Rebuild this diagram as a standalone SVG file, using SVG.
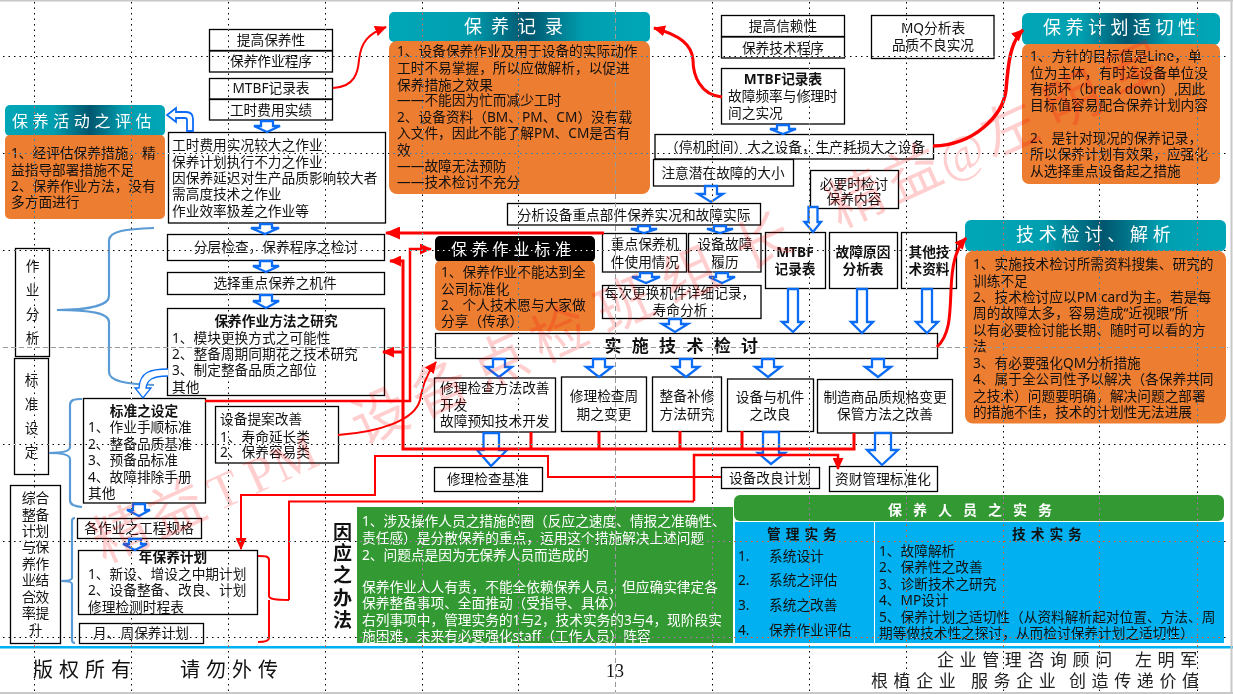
<svg xmlns="http://www.w3.org/2000/svg" width="1233" height="694" viewBox="0 0 1233 694">
<style>
text{font-family:"Noto Sans","Noto Sans CJK SC",sans-serif;font-size:13.7px;fill:#111;text-spacing-trim:space-all}
.m{text-anchor:middle}
.bd{font-weight:700}
.w{fill:#fff}
.box{fill:#fff;stroke:#000;stroke-width:1.3}
.or{fill:#ED7D31}
.hd{fill:url(#teal)}
.ti{fill:#fff;font-size:18px}
.ha{fill:#fff;stroke:#0A6CF5;stroke-width:2.3}
.br{fill:none;stroke:#5B9BD5;stroke-width:2.2}
.r2{fill:none;stroke:#F00;stroke-width:2}
.r3{fill:none;stroke:#F00;stroke-width:3}
.dot{stroke:#fff;stroke-width:1;stroke-dasharray:1.5 4;mix-blend-mode:difference}
.gr{stroke:#999;stroke-width:1;stroke-dasharray:5 3}
.wm{font-size:56px;fill:#F00;fill-opacity:.19}
.wl{font-family:"Liberation Serif",serif;font-size:50px}
.ft{font-size:17px;letter-spacing:5.6px;fill:#222}
</style>
<defs>
<linearGradient id="teal" x1="0" x2="1" y1="0" y2="0">
<stop offset="0" stop-color="#00A6B7"/><stop offset=".3" stop-color="#009FB0"/><stop offset=".53" stop-color="#00566E"/><stop offset=".75" stop-color="#009FB0"/><stop offset="1" stop-color="#00A6B7"/>
</linearGradient>
<marker id="rh" markerUnits="userSpaceOnUse" markerWidth="15" markerHeight="13" refX="14" refY="6.5" orient="auto"><path d="M0 0L15 6.5L0 13z" fill="#F00"/></marker>
<marker id="rs" markerUnits="userSpaceOnUse" markerWidth="12" markerHeight="11" refX="11" refY="5.5" orient="auto"><path d="M0 0L12 5.5L0 11z" fill="#F00"/></marker>
</defs>
<rect width="1233" height="694" fill="#fff"/>

<g id="n-tigao"><rect class="box" x="209.5" y="29.5" width="123" height="21"/><rect class="box" x="209.5" y="51" width="123" height="21"/><text class="m" x="271" y="45">提高保养性</text><text class="m" x="271" y="66">保养作业程序</text></g>
<g id="n-mtbf1"><rect class="box" x="209.5" y="78.5" width="123" height="20.5"/><rect class="box" x="209.5" y="99.5" width="123" height="20.5"/><text class="m" x="271" y="93">MTBF记录表</text><text class="m" x="271" y="115">工时费用实绩</text></g>

<g id="n-huodong"><rect class="hd" x="5" y="105" width="160" height="31" rx="5"/><rect class="or" x="5" y="135" width="160" height="84" rx="5"/>
<text class="ti" style="font-size:16px;letter-spacing:4.6px" x="12" y="127">保养活动之评估</text>
<text x="11" y="158">1、经评估保养措施，精</text><text x="11" y="175">益指导部署措施不足</text><text x="11" y="191">2、保养作业方法，没有</text><text x="11" y="207">多方面进行</text></g>

<g id="n-gongshi"><rect class="box" x="168.5" y="132.5" width="217" height="90.5"/>
<text x="172" y="150">工时费用实况较大之作业</text><text x="172" y="167">保养计划执行不力之作业</text><text x="172" y="183">因保养延迟对生产品质影响较大者</text><text x="172" y="199">需高度技术之作业</text><text x="172" y="216">作业效率极差之作业等</text></g>

<g id="n-fenceng"><rect class="box" x="167.5" y="234.5" width="217" height="26"/><text class="m" x="276" y="252">分层检查，保养程序之检讨</text></g>
<g id="n-xuanze"><rect class="box" x="167.5" y="272.5" width="217" height="22"/><text class="m" x="275" y="288">选择重点保养之机件</text></g>
<g id="n-yanjiu"><rect class="box" x="167.5" y="308.5" width="217" height="87"/>
<text class="m bd" x="276" y="326">保养作业方法之研究</text><text x="172" y="343">1、模块更换方式之可能性</text><text x="172" y="359">2、整备周期同期花之技术研究</text><text x="172" y="375">3、制定整备品质之部位</text><text x="172" y="392">其他</text></g>

<g id="n-zuoye"><rect class="box" x="15.5" y="248.5" width="34" height="108"/><text class="m" x="32.500" y="271">作</text><text class="m" x="32.500" y="295">业</text><text class="m" x="32.500" y="319">分</text><text class="m" x="32.500" y="343">析</text></g>
<g id="n-biaozhun-l"><rect class="box" x="14.5" y="358.500" width="34" height="116"/><text class="m" x="31.500" y="385">标</text><text class="m" x="31.500" y="409">准</text><text class="m" x="31.500" y="433">设</text><text class="m" x="31.500" y="457">定</text></g>
<g id="n-zonghe"><rect class="box" x="10.5" y="485.5" width="50" height="158"/>
<text class="m" x="35.500" y="503">综合</text><text class="m" x="35.500" y="520">整备</text><text class="m" x="35.500" y="536">计划</text><text class="m" x="35.500" y="552">与保</text><text class="m" x="35.500" y="569">养作</text><text class="m" x="35.500" y="585">业结</text><text class="m" x="35.500" y="602">合效</text><text class="m" x="35.500" y="618">率提</text><text class="m" x="35.500" y="635">升</text></g>

<g id="n-biaozhun"><rect class="box" x="83.5" y="398.5" width="122" height="104.500"/>
<text class="m bd" x="144" y="416">标准之设定</text><text x="88" y="432">1、作业手顺标准</text><text x="88" y="449">2、整备品质基准</text><text x="88" y="465">3、预备品标准</text><text x="88" y="482">4、故障排除手册</text><text x="88" y="498">其他</text></g>
<g id="n-tian"><rect class="box" x="215.5" y="406.5" width="123" height="56.500"/><text x="220" y="424">设备提案改善</text><text x="220" y="442">1、寿命延长类</text><text x="220" y="457">2、保养容易类</text></g>
<g id="n-guige"><rect class="box" x="77.5" y="518.5" width="124" height="20"/><text class="m" x="139" y="533">各作业之工程规格</text></g>
<g id="n-nian"><rect class="box" x="78.5" y="550.5" width="179" height="64"/>
<text class="m bd" x="173" y="562">年保养计划</text><text x="88" y="579">1、新设、增设之中期计划</text><text x="88" y="595">2、设备整备、改良、计划</text><text x="88" y="612">修理检测时程表</text></g>
<g id="n-yue"><rect class="box" x="79.5" y="623.5" width="124" height="20"/><text class="m" x="141" y="638">月、周保养计划</text></g>

<g id="n-jilu"><rect class="hd" x="389" y="12" width="261" height="30" rx="5"/><rect class="or" x="389" y="41" width="261" height="153" rx="8"/>
<text class="ti" style="letter-spacing:9px" x="464" y="33">保养记录</text>
<text x="397" y="56">1、设备保养作业及用于设备的实际动作</text><text x="397" y="73">工时不易掌握，所以应做解析，以促进</text><text x="397" y="90">保养措施之效果</text><text x="397" y="105">——不能因为忙而减少工时</text><text x="397" y="122">2、设备资料（BM、PM、CM）没有载</text><text x="397" y="138">入文件，因此不能了解PM、CM是否有</text><text x="397" y="155">效</text><text x="397" y="171">——故障无法预防</text><text x="397" y="187">——技术检讨不充分</text></g>

<g id="n-xinlai"><rect class="box" x="721.5" y="15.5" width="123" height="21"/><rect class="box" x="721.5" y="37" width="123" height="21"/><text class="m" x="783" y="31">提高信赖性</text><text class="m" x="783" y="53">保养技术程序</text></g>
<g id="n-mtbf2"><rect class="box" x="721.5" y="68.5" width="123" height="55.500"/><text class="m bd" x="783" y="84">MTBF记录表</text><text x="728" y="101">故障频率与修理时</text><text x="728" y="118">间之实况</text></g>
<g id="n-mq"><rect class="box" x="871.5" y="15.5" width="122.500" height="43"/><text class="m" x="933" y="33">MQ分析表</text><text class="m" x="933" y="50">品质不良实况</text></g>
<g id="n-tingji"><rect class="box" x="655" y="134.5" width="278.500" height="24.500"/><text x="665" y="152">（停机时间）大之设备，生产耗损大之设备</text></g>
<g id="n-zhuyi"><rect class="box" x="653.5" y="159.5" width="140" height="26.500"/><text class="m" x="723" y="178">注意潜在故障的大小</text></g>
<g id="n-biyao"><rect class="box" x="810.5" y="170.5" width="88" height="38"/><text class="m" x="854" y="189">必要时检讨</text><text class="m" x="854" y="204">保养内容</text></g>
<g id="n-fenxi"><rect class="box" x="507.5" y="203.5" width="253" height="21.500"/><text class="m" x="634" y="220">分析设备重点部件保养实况和故障实际</text></g>

<g id="n-shiyong"><rect class="box" x="602.5" y="233.5" width="84" height="38.500"/><text class="m" x="645" y="249">重点保养机</text><text class="m" x="645" y="267">件使用情况</text></g>
<g id="n-lvli"><rect class="box" x="688.5" y="233.5" width="72.500" height="38.500"/><text class="m" x="725" y="249">设备故障</text><text class="m" x="725" y="267">履历</text></g>
<g id="n-meici"><rect class="box" x="602.5" y="285.5" width="158.500" height="33"/><text class="m" x="680" y="298">每次更换机件详细记录，</text><text class="m" x="680" y="315">寿命分析</text></g>

<g id="n-mtbf3"><rect class="box" x="765.5" y="232.5" width="60" height="56"/><text class="m bd" x="795" y="257">MTBF</text><text class="m bd" x="795" y="274">记录表</text></g>
<g id="n-yuanyin"><rect class="box" x="829.5" y="232.5" width="68" height="56"/><text class="m bd" x="863" y="257">故障原因</text><text class="m bd" x="863" y="274">分析表</text></g>
<g id="n-qita"><rect class="box" x="901.5" y="232.5" width="55" height="56"/><text class="m bd" x="929" y="257">其他技</text><text class="m bd" x="929" y="274">术资料</text></g>

<g id="n-zybz"><rect x="435" y="236" width="160" height="26" rx="5" fill="#000"/><rect class="or" x="435" y="261" width="160" height="70" rx="5"/>
<text class="ti" style="font-size:16px;letter-spacing:4.8px" x="451" y="255">保养作业标准</text>
<text x="441" y="277">1、保养作业不能达到全</text><text x="441" y="294">公司标准化</text><text x="441" y="310">2、个人技术愿与大家做</text><text x="441" y="326">分享（传承）</text></g>

<g id="n-shishi"><rect class="box" x="435.5" y="333.5" width="502" height="25"/><text class="bd" style="font-size:17px;letter-spacing:10.300px" x="604.500" y="352">实施技术检讨</text></g>

<g id="n-x1"><rect class="box" x="434.5" y="378" width="121" height="54"/><text x="440" y="393">修理检查方法改善</text><text x="440" y="410">开发</text><text x="440" y="426">故障预知技术开发</text></g>
<g id="n-x2"><rect class="box" x="561.5" y="377" width="85" height="54.500"/><text class="m" x="604" y="401">修理检查周</text><text class="m" x="604" y="419">期之变更</text></g>
<g id="n-x3"><rect class="box" x="652.5" y="377" width="69" height="54.500"/><text class="m" x="687" y="401">整备补修</text><text class="m" x="687" y="419">方法研究</text></g>
<g id="n-x4"><rect class="box" x="727.5" y="379" width="86" height="52.500"/><text class="m" x="770" y="402">设备与机件</text><text class="m" x="770" y="419">之改良</text></g>
<g id="n-x5"><rect class="box" x="817.5" y="379.5" width="135" height="53.500"/><text class="m" x="885" y="402">制造商品质规格变更</text><text class="m" x="885" y="419">保管方法之改善</text></g>
<g id="n-jizhun"><rect class="box" x="434.5" y="467.5" width="108" height="24"/><text class="m" x="488" y="484">修理检查基准</text></g>
<g id="n-gailiang"><rect class="box" x="721.5" y="467.5" width="98" height="21"/><text class="m" x="770" y="483">设备改良计划</text></g>
<g id="n-zicai"><rect class="box" x="829.5" y="466.5" width="108" height="25"/><text class="m" x="883" y="484">资财管理标准化</text></g>

<g id="n-shiqie"><rect class="hd" x="1022" y="13" width="198" height="32" rx="6"/><rect class="or" x="1022" y="44" width="198" height="140" rx="7"/>
<text class="ti" style="letter-spacing:4.500px" x="1043" y="34">保养计划适切性</text>
<text x="1030" y="61">1、方针的目标值是Line，单</text><text x="1030" y="78">位为主体，有时迄设备单位没</text><text x="1030" y="94">有损坏（break down）,因此</text><text x="1030" y="110">目标值容易配合保养计划内容</text><text x="1030" y="143">2、是针对现况的保养记录，</text><text x="1030" y="159">所以保养计划有效果，应强化</text><text x="1030" y="176">从选择重点设备起之措施</text></g>

<g id="n-jiexi"><rect class="hd" x="965" y="220" width="261" height="31.500" rx="6"/><rect class="or" x="965" y="251" width="261" height="172.500" rx="8"/>
<text class="ti" style="letter-spacing:4.800px" x="1016" y="241">技术检讨、解析</text>
<text x="973" y="269">1、实施技术检讨所需资料搜集、研究的</text><text x="973" y="286">训练不足</text><text x="973" y="302">2、技术检讨应以PM card为主。若是每</text><text x="973" y="318">周的故障太多，容易造成“近视眼”所</text><text x="973" y="335">以有必要检讨能长期、随时可以看的方</text><text x="973" y="351">法</text><text x="973" y="368">3、有必要强化QM分析措施</text><text x="973" y="384">4、属于全公司性予以解决（各保养共同</text><text x="973" y="401">之技术）问题要明确，解决问题之部署</text><text x="973" y="417">的措施不佳，技术的计划性无法进展</text></g>

<g id="n-banfa"><rect x="357" y="507" width="376" height="136" fill="#339933"/>
<text class="w" x="362" y="526">1、涉及操作人员之措施的圈（反应之速度、情报之准确性、</text><text class="w" x="362" y="543">责任感）是分散保养的重点，运用这个措施解决上述问题</text><text class="w" x="362" y="560">2、问题点是因为无保养人员而造成的</text><text class="w" x="362" y="592">保养作业人人有责，不能全依赖保养人员，但应确实律定各</text><text class="w" x="362" y="608">保养整备事项、全面推动（受指导、具体）</text><text class="w" x="362" y="625">右列事项中，管理实务的1与2，技术实务的3与4，现阶段实</text><text class="w" x="362" y="641">施困难，未来有必要强化staff（工作人员）阵容</text></g>
<g id="n-yingdui"><text class="m bd" style="font-size:19px" x="342.500" y="539">因</text><text class="m bd" style="font-size:19px" x="342.500" y="560">应</text><text class="m bd" style="font-size:19px" x="342.500" y="582">之</text><text class="m bd" style="font-size:19px" x="342.500" y="605">办</text><text class="m bd" style="font-size:19px" x="342.500" y="627">法</text></g>

<g id="n-shiwu"><rect x="734" y="495" width="490" height="26" rx="6" fill="#339933"/>
<text class="bd w" style="font-size:14px;letter-spacing:11px" x="888" y="515">保养人员之实务</text>
<rect x="735" y="522" width="139" height="121" fill="#00B0F0"/><rect x="875" y="522" width="349" height="121" fill="#00B0F0"/>
<text class="bd" style="letter-spacing:5px" x="767" y="539">管理实务</text><text class="bd" style="letter-spacing:5px" x="1012" y="539">技术实务</text>
<text x="738" y="561">1.</text><text x="769" y="561">系统设计</text><text x="738" y="585">2.</text><text x="769" y="585">系统之评估</text><text x="738" y="610">3.</text><text x="769" y="610">系统之改善</text><text x="738" y="635">4.</text><text x="769" y="635">保养作业评估</text>
<text x="879" y="556">1、故障解析</text><text x="879" y="572">2、保养性之改善</text><text x="879" y="589">3、诊断技术之研究</text><text x="879" y="605">4、MP设计</text><text x="879" y="622">5、保养计划之适切性（从资料解析起对位置、方法、周</text><text x="879" y="638">期等做技术性之探讨，从而检讨保养计划之适切性）</text></g>

<g id="connectors">
<path class="br" d="M154 228C125 229 110 231 109 240L109 296C109 305 90 310 57 310C90 310 109 313 109 322L109 372C109 381 125 384 154 385"/>
<path class="br" d="M82 399C74 399 70 400 70 405L70 447C70 451 62 453 49 453C62 453 70 455 70 459L70 500C70 505 74 506 82 507"/>
<path class="br" d="M75 518C73 518 72 519 72 521L72 578C72 580 68 581 61 581C68 581 72 582 72 584L72 640C72 642 73 643 75 643"/>

<path class="ha" style="stroke-width:1.800" d="M193 131L193 119C193 114 190 112 186 112L176 112L176 108L167 115L176 122L176 118L185 118C186 118 187 119 187 120L187 131z"/>
<path class="ha" style="stroke-width:1.300" d="M168 369C150 369 140 372 139 388L135 388L143 398L151 388L146 388C147 380 152 376 168 376"/>

<polygon class="ha" points="261,121 273,121 273,126 280,126 267,132 254,126 261,126"/>
<polygon class="ha" points="260,224 272,224 272,228 279,228 265,234 251,228 260,228"/>
<polygon class="ha" points="260,261 272,261 272,266 279,266 266,272 253,266 260,266"/>
<polygon class="ha" points="260,295 272,295 272,301 279,301 266,308 253,301 260,301"/>
<polygon class="ha" points="133,504 145,504 145,510 150,510 139,516 127,510 133,510"/>
<polygon class="ha" points="129,539 141,539 141,544 147,544 135,550 123,544 129,544"/>
<polygon class="ha" points="777,125 789,125 789,129 796,129 783,134 770,129 777,129"/>
<polygon class="ha" points="705,186 717,186 717,194 723,194 711,202 698,194 705,194"/>
<polygon class="ha" points="808.500,207 817.500,207 817.500,222 821,222 813,232 804.500,222 808.500,222"/>
<polygon class="ha" points="638,226 650,226 650,229 657,229 644,233 631,229 638,229"/>
<polygon class="ha" points="714,226 726,226 726,229 733,229 720,233 707,229 714,229"/>
<polygon class="ha" points="640,273 652,273 652,277 660,277 646,283 632,277 640,277"/>
<polygon class="ha" points="716,273 728,273 728,277 735,277 722,283 709,277 716,277"/>
<polygon class="ha" points="669,319 681,319 681,324 688,324 675,332 662,324 669,324"/>
<polygon class="ha" points="788,289 798,289 798,322 803,322 793,332 782,322 788,322"/>
<polygon class="ha" points="857,289 867,289 867,322 873,322 862,333 851,322 857,322"/>
<polygon class="ha" points="922,289 932,289 932,322 938,322 927,333 916,322 922,322"/>
<polygon class="ha" points="493,359 505,359 505,367 512,367 499,377 486,367 493,367"/>
<polygon class="ha" points="593,359 605,359 605,367 612,367 599,377 586,367 593,367"/>
<polygon class="ha" points="680,359 692,359 692,367 699,367 686,377 673,367 680,367"/>
<polygon class="ha" points="762,359 774,359 774,367 781,367 768,377 755,367 762,367"/>
<polygon class="ha" points="872,359 884,359 884,367 891,367 878,377 865,367 872,367"/>
<polygon class="ha" points="483.500,433 499,433 499,450 507,450 491,466 477,450 483.500,450"/>
<polygon class="ha" points="763,432 779,432 779,453 785,453 771,464 758,453 763,453"/>
<polygon class="ha" points="875,433 891,433 891,450 898,450 882,465 867,450 875,450"/>

<path class="r2" d="M333 88C355 87 358 72 359 60C361 42 368 34 386 27" marker-end="url(#rs)"/>
<path class="r3" d="M722 97C700 95 693 75 693 60C692 45 680 35 654 28" marker-end="url(#rs)"/>
<path class="r3" style="stroke-width:3.500" d="M933 146C975 145 1003 115 1006 90C1008 65 1010 42 1023 30" marker-end="url(#rs)"/>
<path class="r3" d="M937 347C950 335 950 315 951 290C952 265 955 250 966 238" marker-end="url(#rs)"/>
<path class="r2" d="M338 435C380 432 415 420 420 400C423 385 426 375 436 362" marker-end="url(#rs)"/>
<path class="r3" d="M604 233L386 233" marker-end="url(#rh)"/>
<path class="r3" style="stroke-width:2.500" d="M205 401L410 401L410 249L431 249" marker-end="url(#rs)"/>
<path class="r3" d="M854 433L854 449L403 449L403 261L390 261" marker-end="url(#rs)"/>
<path class="r3" d="M403 352L383 352" marker-end="url(#rs)"/>
<path class="r3" d="M531 432L531 449M599 431L599 449M680 431L680 449M742 431L742 449"/>
<path class="r2" style="stroke-width:2.500" d="M694 501L694 455L838 455L838 469" marker-end="url(#rs)"/>
<path class="r2" d="M289 600L289 501.500L694 501.500"/>
<path class="r2" d="M721 477L548 477L548 456L375 456L375 495L241 495L241 549" marker-end="url(#rs)"/>
<path class="r2" d="M258 556C265 556 269 556 269 560L269 596C269 599 275 600 289 600M269 600C269 601 269 602 269 604L269 638C269 641 265 642 258 642"/>
</g>

<g id="footer">
<rect x="0" y="646" width="1233" height="2.500" fill="#00B0F0"/>
<text style="font-size:20px;letter-spacing:6px" x="33" y="677">版权所有</text>
<text style="font-size:20px;letter-spacing:6px" x="180" y="677">请勿外传</text>
<text style="font-family:'Liberation Serif',serif;font-size:18px" class="m" x="615" y="677">13</text>
<text class="ft" y="666"><tspan x="937">企业管理咨询顾问</tspan><tspan x="1135">左明军</tspan></text>
<text class="ft" y="687"><tspan x="871">根植企业</tspan><tspan x="971">服务企业</tspan><tspan x="1069">创造传递价值</tspan></text>
</g>

<g id="watermark">
<text class="wm" transform="translate(125,533) rotate(-24.500)" y="19"><tspan x="-32 29">精益</tspan><tspan class="wl" x="93 134 163">TPM</tspan><tspan x="252 318 384 450 521 593 673 776 838">设备点检班组长精益</tspan><tspan class="wl" x="895">@</tspan><tspan x="944 1014 1082">左明军</tspan></text>
</g>

<g id="guides">
<path class="dot" d="M34.500 2V692M131.500 2V692M228.500 2V692M325.500 2V692M422.500 2V692M518.500 2V692M712.500 2V692M809.500 2V692M906.500 2V692M1003.500 2V692M1099.500 2V692M1197.500 2V692"/>
<path class="dot" d="M3 56.500H1228M3 153.500H1228M3 250.500H1228M3 444.500H1228M3 541.500H1228M3 637.500H1228"/>
<path class="gr" d="M615.500 2V692M3 347.500H1228"/>
<path d="M0 .5H1233M1231.500 0V694M0 693H1233" fill="none" stroke="#C8C8C8" stroke-width="2"/>
</g>
</svg>
